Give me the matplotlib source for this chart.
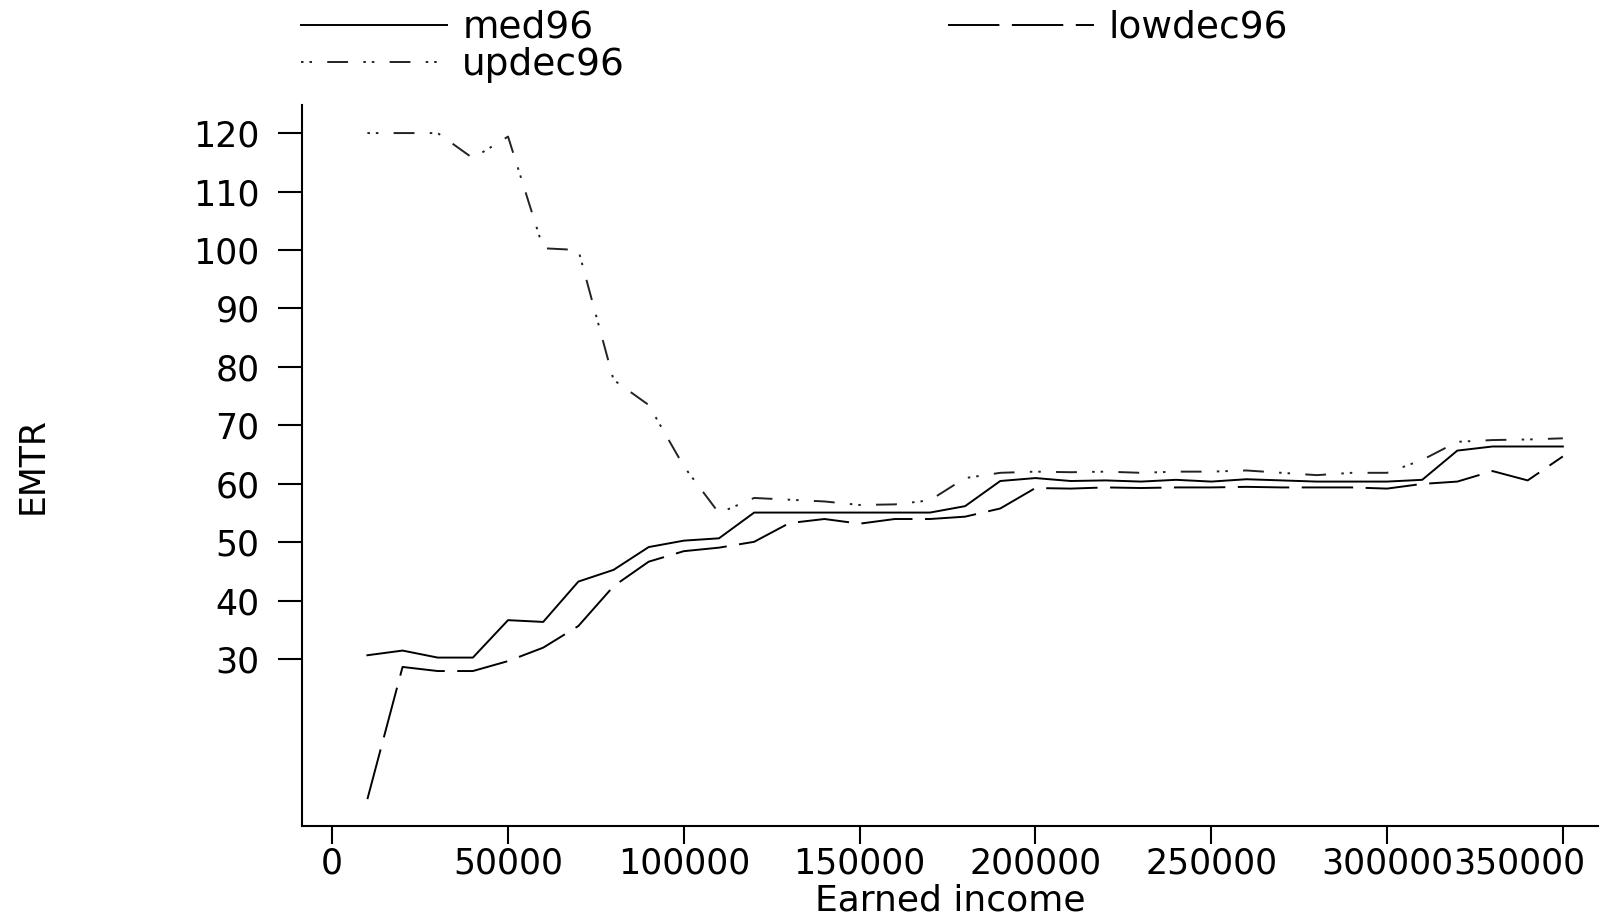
import numpy as np
import matplotlib
matplotlib.use("Agg")
import matplotlib.pyplot as plt
from matplotlib.transforms import ScaledTranslation

plt.rcParams["font.family"] = ["DejaVu Sans"]
plt.rcParams["lines.scale_dashes"] = False

income = np.arange(10000, 350001, 10000)

med96 = [30.7, 31.5, 30.3, 30.3, 36.7, 36.4, 43.3, 45.3, 49.2, 50.3,
         50.7, 55.1, 55.1, 55.1, 55.1, 55.1, 55.1, 56.2, 60.5, 61.0,
         60.5, 60.6, 60.4, 60.7, 60.4, 60.8, 60.6, 60.4, 60.4, 60.4,
         60.7, 65.7, 66.4, 66.4, 66.4]

lowdec96 = [6.1, 28.7, 28.0, 28.0, 29.7, 32.0, 35.7, 42.5, 46.7, 48.5,
            49.1, 50.1, 53.3, 54.0, 53.2, 54.0, 54.0, 54.4, 55.8, 59.3,
            59.2, 59.4, 59.3, 59.4, 59.4, 59.5, 59.4, 59.4, 59.4, 59.2,
            60.0, 60.4, 62.2, 60.6, 64.7]

updec96 = [120.0, 120.0, 120.0, 115.7, 119.4, 100.3, 100.0, 77.8, 73.5, 63.0,
           55.0, 57.6, 57.3, 57.0, 56.4, 56.5, 57.2, 61.0, 61.9, 62.1,
           62.0, 62.1, 61.9, 62.1, 62.1, 62.3, 61.9, 61.5, 61.9, 61.9,
           64.1, 67.2, 67.5, 67.6, 67.8]

yticks = list(range(30, 121, 10))
xticks = [0, 50000, 100000, 150000, 200000, 250000, 300000, 350000]

fig = plt.figure(figsize=(16.03, 9.18), dpi=100)
ax = fig.add_axes([302 / 1603, 1 - 826 / 918, (1598 - 302) / 1603, (826 - 105) / 918])

ax.plot(income, med96, color="black", lw=1.4, label="med96")
ax.plot(income, updec96, color="#222222", lw=1.4,
        linestyle=(0, (1.8, 4.3, 1.8, 11, 15, 11)), label="updec96")
ax.plot(income, lowdec96, color="black", lw=1.4,
        linestyle=(0, (37, 9)), label="lowdec96")

ax.set_xlim(-8600, 360000)
ax.set_ylim(1.5, 124.8)
ax.set_xticks(xticks)
ax.set_xticklabels([str(t) for t in xticks])
ax.set_yticks(yticks)

for side in ["top", "right"]:
    ax.spines[side].set_visible(False)
for side in ["left", "bottom"]:
    ax.spines[side].set_linewidth(1.5)
ax.tick_params(axis="both", labelsize=25, width=1.5, color="black")
ax.tick_params(axis="x", length=13, pad=2)
ax.tick_params(axis="y", length=17, pad=13.5)

# the last x label is pushed left to stay inside the picture
last = ax.get_xticklabels()[-1]
last.set_transform(last.get_transform() + ScaledTranslation(-0.43, 0, fig.dpi_scale_trans))

ax.set_xlabel("Earned income", fontsize=26, va="center")
ax.xaxis.set_label_coords(0.5, -0.103)
ax.set_ylabel("EMTR", fontsize=25, va="center")
ax.yaxis.set_label_coords(-0.2076, 0.5)

fig.legend(loc="upper left", bbox_to_anchor=(301 / 1603, 1 - 10 / 918),
           ncol=2, frameon=False, fontsize=27, handlelength=3.9,
           handletextpad=0.4, columnspacing=8.6, labelspacing=0.02,
           borderpad=0, borderaxespad=0)

fig.savefig("out.png", dpi=100)
